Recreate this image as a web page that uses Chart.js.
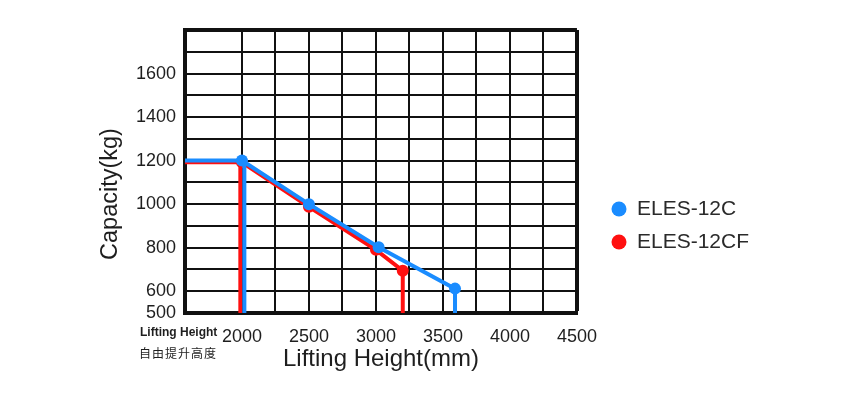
<!DOCTYPE html>
<html><head><meta charset="utf-8">
<script src="https://cdn.jsdelivr.net/npm/chart.js@4/dist/chart.umd.min.js"></script>
<style>html,body{margin:0;padding:0;background:#fff}canvas{display:block}</style>
</head><body>
<canvas id="c" width="858" height="395"></canvas>
<script>
// ---- data ----
const xMin = 1575, xMax = 4500, xStep = 250;
const yMin = 500, yMax = 1800, yStep = 100;
const xTickLabels = [2000, 2500, 3000, 3500, 4000, 4500];
const yTickLabels = [500, 600, 800, 1000, 1200, 1400, 1600];
const seriesNames = ['ELES-12C', 'ELES-12CF'];
const c12X  = [1575, 2000, 2500, 3020, 3590, 3590];
const c12Y  = [1200, 1200, 1000, 802, 612, 500];
const c12fX = [1575, 2000, 2500, 3000, 3200, 3200];
const c12fY = [1192, 1192, 988, 790, 694, 500];
const freeLiftC12X = [2018, 2018];
const freeLiftC12Y = [1200, 500];
const freeLiftC12fX = [1988, 1988];
const freeLiftC12fY = [1192, 500];
const xTitle = 'Lifting Height(mm)';
const yTitle = 'Capacity(kg)';
const cornerText = ['Lifting Height', '自由提升高度'];

const BLUE = '#1a8cff', RED = '#ff1010', INK = '#111111', TXT = '#1e1e1e';
const FONT = '"Liberation Sans", Arial, sans-serif';
const pts = (xs, ys) => xs.map((x, i) => ({x, y: ys[i]}));
const marker = ctx => (ctx.dataIndex > 0 && ctx.dataIndex < ctx.dataset.data.length - 1) ? 6 : 0;

const legendPlace = {
  id: 'legendPlace',
  afterLayout(chart) {
    const l = chart.legend;
    const w = l.width, h = l.height;
    l.left = 599.5; l.right = l.left + w;
    l.top = 186.5; l.bottom = l.top + h;
  }
};
const extraText = {
  id: 'extraText',
  afterDraw(chart) {
    const ctx = chart.ctx;
    ctx.save();
    ctx.fillStyle = TXT;
    ctx.textBaseline = 'middle';
    // y axis title
    ctx.save();
    ctx.translate(111, 194);
    ctx.rotate(-Math.PI / 2);
    ctx.textAlign = 'center';
    ctx.font = '23.5px ' + FONT;
    ctx.fillText(yTitle, 0, 0);
    ctx.restore();
    // corner label
    ctx.textAlign = 'left';
    ctx.font = 'bold 12px ' + FONT;
    ctx.fillText(cornerText[0], 140, 333);
    ctx.font = '12px "Noto Sans CJK SC", sans-serif';
    ctx.letterSpacing = '1px';
    ctx.fillText(cornerText[1], 139, 353);
    ctx.restore();
  }
};

const lineBase = {borderWidth: 4, pointStyle: 'circle', pointBorderWidth: 0, pointHoverRadius: 6, tension: 0, fill: false};

new Chart(document.getElementById('c'), {
  type: 'line',
  data: {
    datasets: [
      Object.assign({label: seriesNames[0], data: pts(c12X, c12Y), borderColor: BLUE, backgroundColor: BLUE, pointRadius: marker, order: 1}, lineBase),
      Object.assign({label: seriesNames[1], data: pts(c12fX, c12fY), borderColor: RED, backgroundColor: RED, pointRadius: marker, order: 3}, lineBase),
      Object.assign({label: 'free-c12', data: pts(freeLiftC12X, freeLiftC12Y), borderColor: BLUE, backgroundColor: BLUE, pointRadius: 0, order: 2}, lineBase),
      Object.assign({label: 'free-c12f', data: pts(freeLiftC12fX, freeLiftC12fY), borderColor: RED, backgroundColor: RED, pointRadius: 0, order: 4}, lineBase)
    ]
  },
  options: {
    responsive: false,
    animation: false,
    devicePixelRatio: 1,
    layout: {padding: {left: 0, right: 121.5, top: 30, bottom: 0}},
    plugins: {
      tooltip: {enabled: false},
      legend: {
        position: 'right',
        align: 'start',
        labels: {
          usePointStyle: true,
          pointStyleWidth: 15,
          boxHeight: 10.6,
          padding: 12,
          color: '#2a2a2a',
          font: {family: FONT, size: 21},
          filter: item => item.datasetIndex < 2,
          generateLabels: chart => Chart.defaults.plugins.legend.labels.generateLabels(chart).map(it => Object.assign(it, {lineWidth: 0}))
        }
      }
    },
    scales: {
      x: {
        type: 'linear', min: xMin, max: xMax,
        afterBuildTicks: s => { const t = []; for (let v = xTickLabels[0]; v <= xMax; v += xStep) t.push({value: v}); s.ticks = t; },
        afterFit: s => { s.height = 82; },
        ticks: {autoSkip: false, maxRotation: 0, padding: 13, color: TXT,
          font: {family: FONT, size: 18},
          callback: v => xTickLabels.includes(v) ? String(v) : ''},
        grid: {color: INK, lineWidth: c => c.tick && c.tick.value === xMax ? 4 : 2, drawTicks: false},
        border: {display: true, color: INK, width: 4},
        title: {display: true, text: xTitle, color: TXT,
          font: {family: FONT, size: 24}, padding: {top: 0, bottom: 21}}
      },
      y: {
        type: 'linear', min: yMin, max: yMax,
        afterBuildTicks: s => { const t = []; for (let v = yMin; v <= yMax; v += yStep) t.push({value: v}); s.ticks = t; },
        afterFit: s => { s.width = 185; },
        ticks: {autoSkip: false, padding: 9, color: TXT,
          font: {family: FONT, size: 18},
          callback: v => yTickLabels.includes(v) ? String(v) : ''},
        grid: {color: INK, lineWidth: c => c.tick && c.tick.value === yMax ? 4 : 2, drawTicks: false},
        border: {display: true, color: INK, width: 4},
        title: {display: false}
      }
    }
  },
  plugins: [legendPlace, extraText]
});
</script>
</body></html>
